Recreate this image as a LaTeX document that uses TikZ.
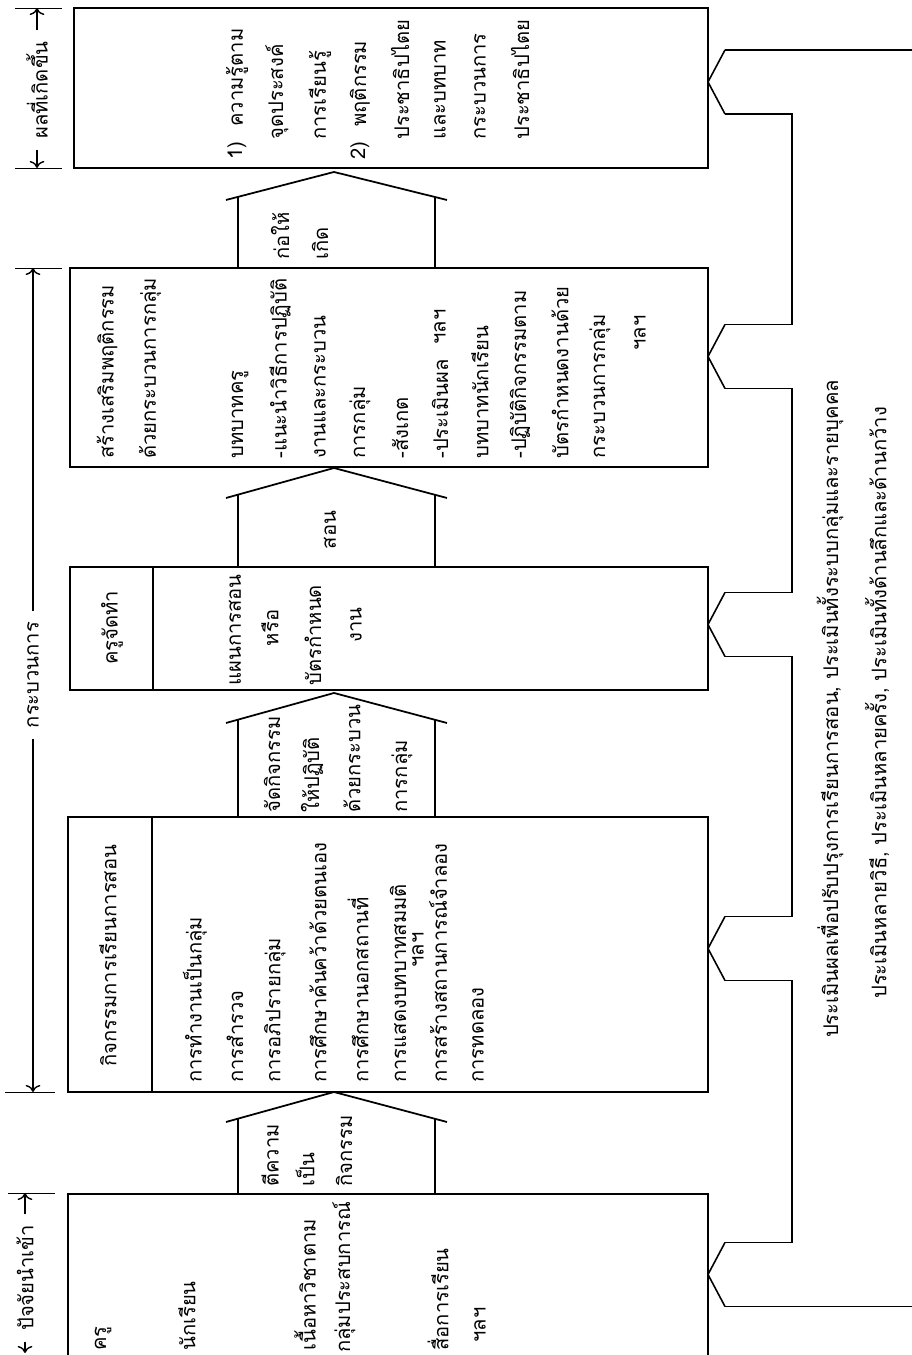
\documentclass[tikz,border=0pt]{standalone}
\usepackage{fontspec}
\newfontfamily\thaifont[Script=Thai]{Loma}
\usetikzlibrary{arrows.meta, positioning, calc}

\begin{document}
\begin{tikzpicture}[x=0.02cm, y=0.02cm, rotate=90, transform shape,
	box/.style 2 args={draw, line width=1pt, anchor=south west, inner sep=0pt, outer sep=0pt,
		minimum width=#1*0.02cm, minimum height=#2*0.02cm},
	txt/.style={anchor=west, inner sep=0pt, font=\thaifont\fontsize{11.5}{14}\selectfont},
	ctxt/.style={txt, anchor=center},
	hd/.style={txt, anchor=center, inner xsep=6pt},
	dim/.style={-{To[length=4pt]}, line width=0.8pt},
	fb/.style={line width=0.9pt}]
	\useasboundingbox (0,0) rectangle (1355,912);

	% boxes
	\node[box={201}{640}] (input) at (-40,204) {};
	\node[box={275}{640}] (activity) at (263,204) {};
	\node[box={123}{638}] (teacher) at (665,204) {};
	\node[box={199}{638}] (behaviour) at (888,204) {};
	\node[box={160}{634}] (result) at (1187,204) {};
	\draw[line width=1pt] (263,760) -- (538,760);
	\draw[line width=1pt] (665,759) -- (788,759);

	% arrows between the boxes
	\foreach \b/\s/\a in {161/233/263, 538/632/662, 788/857/887, 1087/1155/1183}{
		\draw[line width=1pt] (\b,674) -- (\s+3,674);
		\draw[line width=1pt] (\b,477) -- (\s+3,477);
		\draw[line width=1pt] (\s,686) -- (\a,578) -- (\s,465);
	}

	% headings
	\node[hd] (hinput) at (77,887) {ปัจจัยนำเข้า};
	\draw[dim] (hinput.west) -- (2,887);
	\draw[dim] (hinput.east) -- (162,887);
	\draw (162,904) -- (162,857);
	\node[hd] (hprocess) at (680,879) {กระบวนการ};
	\draw[dim] (hprocess.west) -- (263,879);
	\draw[dim] (hprocess.east) -- (1087,879);
	\draw (263,907) -- (263,857);
	\draw (1087,897) -- (1087,850);
	\node[hd] (houtput) at (1265,875) {ผลที่เกิดขึ้น};
	\draw[dim] (houtput.west) -- (1187,875);
	\draw[dim] (houtput.east) -- (1347,875);
	\draw (1187,897) -- (1187,850);
	\draw (1347,897) -- (1347,850);

	% input
	\node[txt] (in1) at (4,809) {ครู};
	\node[txt] (in2) at (4,725) {นักเรียน};
	\node[txt] (in3) at (4,607) {เนื้อหาวิชาตาม};
	\node[txt] (in4) at (2,568) {กลุ่มประสบการณ์};
	\node[txt] (in5) at (4,474) {สื่อการเรียน};
	\node[txt] (in6) at (12,432) {ฯลฯ};
	\node[txt] (ar1a) at (168,642) {ตีความ};
	\node[txt] (ar1b) at (168,607) {เป็น};
	\node[txt] (ar1c) at (168,568) {กิจกรรม};

	% activities
	\node[txt] (act0) at (288,804) {กิจกรรมการเรียนการสอน};
	\node[txt] (act1) at (272,717) {การทำงานเป็นกลุ่ม};
	\node[txt] (act2) at (272,677) {การสำรวจ};
	\node[txt] (act3) at (272,637) {การอภิปรายกลุ่ม};
	\node[txt] (act4) at (272,594) {การศึกษาค้นคว้าด้วยตนเอง};
	\node[txt] (act5) at (272,554) {การศึกษานอกสถานที่};
	\node[txt] (act6) at (272,514) {การแสดงบทบาทสมมติ};
	\node[txt] (act7) at (272,474) {การสร้างสถานการณ์จำลอง};
	\node[txt] (act8) at (272,434) {การทดลอง};
	\node[ctxt] (act9) at (405,494) {ฯลฯ};
	\node[txt] (ar2a) at (542,640) {จัดกิจกรรม};
	\node[txt] (ar2b) at (542,600) {ให้ปฏิบัติ};
	\node[txt] (ar2c) at (542,560) {ด้วยกระบวน};
	\node[txt] (ar2d) at (542,510) {การกลุ่ม};

	% teacher
	\node[ctxt] (tea0) at (727,800) {ครูจัดทำ};
	\node[txt] (tea1) at (669,677) {แผนการสอน};
	\node[ctxt] (tea2) at (727,642) {หรือ};
	\node[txt] (tea3) at (669,599) {บัตรกำหนด};
	\node[ctxt] (tea4) at (730,556) {งาน};
	\node[ctxt] (ar3) at (825,582) {สอน};

	% behaviour
	\node[txt] (beh1) at (896,805) {สร้างเสริมพฤติกรรม};
	\node[txt] (beh2) at (896,762) {ด้วยกระบวนการกลุ่ม};
	\node[txt] (beh3) at (896,672) {บทบาทครู};
	\node[txt] (beh4) at (896,632) {-แนะนำวิธีการปฏิบัติ};
	\node[txt] (beh5) at (896,592) {งานและกระบวน};
	\node[txt] (beh6) at (896,552) {การกลุ่ม};
	\node[txt] (beh7) at (896,512) {-สังเกต};
	\node[txt] (beh8) at (896,472) {-ประเมินผล};
	\node[ctxt] (beh9) at (1028,472) {ฯลฯ};
	\node[txt] (beh10) at (896,432) {บทบาทนักเรียน};
	\node[txt] (beh11) at (896,392) {-ปฏิบัติกิจกรรมตาม};
	\node[txt] (beh12) at (896,352) {บัตรกำหนดงานด้วย};
	\node[txt] (beh13) at (896,312) {กระบวนการกลุ่ม};
	\node[ctxt] (beh14) at (1022,272) {ฯลฯ};
	\node[txt] (ar4a) at (1095,632) {ก่อให้};
	\node[txt] (ar4b) at (1095,592) {เกิด};

	% results
	\node[txt] (res1) at (1195,675) {1)};
	\node[txt] (res1b) at (1228,675) {ความรู้ตาม};
	\node[txt] (res2) at (1215,635) {จุดประสงค์};
	\node[txt] (res3) at (1215,592) {การเรียนรู้};
	\node[txt] (res4) at (1195,552) {2)};
	\node[txt] (res4b) at (1228,552) {พฤติกรรม};
	\node[txt] (res5) at (1215,512) {ประชาธิปไตย};
	\node[txt] (res6) at (1215,472) {และบทบาท};
	\node[txt] (res7) at (1215,432) {กระบวนการ};
	\node[txt] (res8) at (1215,392) {ประชาธิปไตย};

	% evaluation feedback
	\node[ctxt] (eval1) at (646,82) {ประเมินผลเพื่อปรับปรุงการเรียนการสอน, ประเมินทั้งระบบกลุ่มและรายบุคคล};
	\node[ctxt] (eval2) at (652,35) {ประเมินหลายวิธี, ประเมินหลายครั้ง, ประเมินทั้งด้านลึกและด้านกว้าง};
	\coordinate (inTip) at ($(input.south)+(20,0)$);
	\coordinate (actTip) at ($(activity.south)+(6,0)$);
	\coordinate (teaTip) at ($(teacher.south)+(4,0)$);
	\coordinate (behTip) at ($(behaviour.south)+(11,0)$);
	\coordinate (resTip) at ($(result.south)+(6,0)$);
	\foreach \t in {inTip, actTip, teaTip, behTip, resTip}
		\draw[fb] ($(\t)+(32,-17)$) -- (\t) -- ($(\t)+(-32,-17)$);
	\draw[fb] ($(resTip)+(32,-17)$) -- ++(0,-187);
	\draw[fb] ($(resTip)+(-32,-17)$) -- ++(0,-67) -- ($(behTip)+(32,-84)$) -- ($(behTip)+(32,-17)$);
	\draw[fb] ($(behTip)+(-32,-17)$) -- ++(0,-67) -- ($(teaTip)+(32,-84)$) -- ($(teaTip)+(32,-17)$);
	\draw[fb] ($(teaTip)+(-32,-17)$) -- ++(0,-67) -- ($(actTip)+(32,-84)$) -- ($(actTip)+(32,-17)$);
	\draw[fb] ($(actTip)+(-32,-17)$) -- ++(0,-67) -- ($(inTip)+(32,-84)$) -- ($(inTip)+(32,-17)$);
	\draw[fb] ($(inTip)+(-32,-17)$) -- ++(0,-187);
\end{tikzpicture}
\end{document}
